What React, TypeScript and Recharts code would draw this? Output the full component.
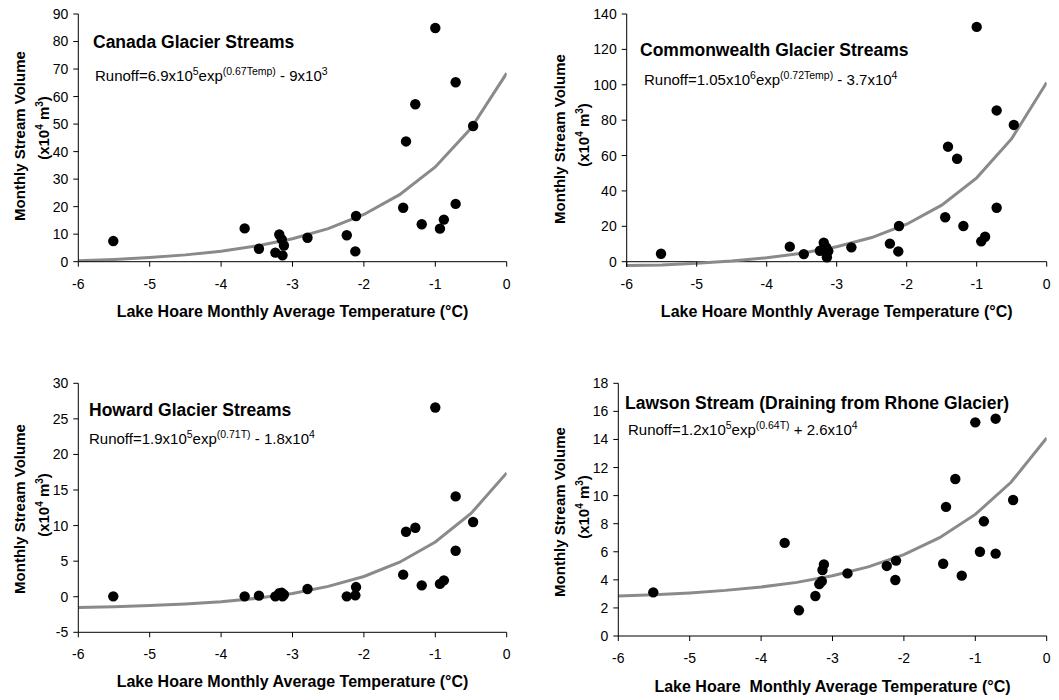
import React from 'react';
import { ComposedChart, Line, Scatter, XAxis, YAxis, ReferenceLine } from 'recharts';

const FONT = "'Liberation Sans', Arial, sans-serif";

// Lake Hoare monthly average temperature (°C), shared by all four panels
const temps = [-5.51, -3.67, -3.47, -3.24, -3.185, -3.15, -3.12, -3.14, -2.79, -2.24, -2.12, -2.11, -1.45, -1.41, -1.28, -1.19, -1.0, -0.935, -0.88, -0.715, -0.715, -0.47];

// Monthly stream volume (x10^4 m^3)
const canadaVolumes = [7.5, 12.1, 4.7, 3.3, 9.9, 8.1, 5.9, 2.3, 8.7, 9.6, 3.75, 16.6, 19.6, 43.7, 57.2, 13.6, 84.9, 12.0, 15.3, 65.2, 21.0, 49.3];
const commonwealthVolumes = [4.5, 8.5, 4.3, 6.2, 10.7, 8.0, 6.0, 2.5, 8.1, 10.2, 5.8, 20.2, 25.1, 65.0, 58.2, 20.2, 132.7, 11.5, 14.1, 85.5, 30.5, 77.3];
const howardVolumes = [0.05, 0.05, 0.15, 0.05, 0.5, 0.55, 0.3, 0.05, 1.08, 0.05, 0.2, 1.36, 3.1, 9.14, 9.7, 1.6, 26.6, 1.8, 2.3, 14.1, 6.47, 10.5];
const lawsonVolumes = [3.11, 6.63, 1.83, 2.85, 3.7, 3.9, 5.1, 4.7, 4.46, 4.99, 3.99, 5.37, 5.15, 9.2, 11.18, 4.3, 15.22, 6.0, 8.17, 15.48, 5.87, 9.69];

// Fitted runoff curves
const fitTemps = [-6, -5.5, -5, -4.5, -4, -3.5, -3, -2.5, -2, -1.5, -1, -0.5, 0];
const canadaFit = [0.34, 0.83, 1.52, 2.48, 3.83, 5.71, 8.35, 12.03, 17.17, 24.36, 34.41, 48.46, 68.5];
const commonwealthFit = [-2.2, -1.9, -0.83, 0.41, 2.19, 4.75, 8.41, 13.66, 21.18, 31.96, 47.41, 69.56, 101.3];
const howardFit = [-1.53, -1.42, -1.25, -1.02, -0.69, -0.22, 0.46, 1.45, 2.85, 4.85, 7.7, 11.7, 17.4];
const lawsonFit = [2.85, 2.94, 3.07, 3.25, 3.49, 3.82, 4.29, 4.92, 5.8, 7.0, 8.66, 10.95, 14.1];

const xTicks = [-6, -5, -4, -3, -2, -1, 0];
const canadaTicks = [0, 10, 20, 30, 40, 50, 60, 70, 80, 90];
const commonwealthTicks = [0, 20, 40, 60, 80, 100, 120, 140];
const howardTicks = [-5, 0, 5, 10, 15, 20, 25, 30];
const lawsonTicks = [0, 2, 4, 6, 8, 10, 12, 14, 16, 18];

const toPoints = (xs: number[], ys: number[]) => xs.map((x, i) => ({ x, y: ys[i] }));

const Dot = (props: any) => {
  const { cx, cy } = props;
  if (cx == null || cy == null) return <g />;
  return <circle cx={cx} cy={cy} r={5.2} fill="#000" />;
};

const TICK_FONT = 14;

type PanelProps = {
  left: number;
  top: number;
  width: number;
  height: number;
  margin: { top: number; right: number; bottom: number; left: number };
  yTicks: number[];
  volumes: number[];
  fit: number[];
  belowZero?: number; // extra room under the x axis so the fit line is not clipped
  pxPerUnit?: number;
};

const Panel = ({ left, top, width, height, margin, yTicks, volumes, fit, belowZero, pxPerUnit }: PanelProps) => {
  const tickStyle = { fontSize: TICK_FONT, fill: '#000', fontFamily: FONT };
  const extra = belowZero && pxPerUnit ? belowZero * pxPerUnit : 0;
  const yMin = belowZero ? yTicks[0] - belowZero : yTicks[0];
  const m = { ...margin, bottom: margin.bottom - extra };
  const customTick = (props: any) => {
    const { x, y, payload } = props;
    const axisY = y - 5 - (12 - extra) - extra;
    return (
      <g>
        <line x1={x} x2={x} y1={axisY} y2={axisY + 5} stroke="#000" />
        <text x={x} y={y} dy="0.71em" textAnchor="middle" fontSize={TICK_FONT} fontFamily={FONT} fill="#000">
          {payload.value}
        </text>
      </g>
    );
  };
  return (
    <div style={{ position: 'absolute', left, top, width, height }}>
      <ComposedChart width={width} height={height} margin={m} style={{ fontFamily: FONT }}>
        <XAxis
          type="number"
          dataKey="x"
          domain={[-6, 0]}
          ticks={xTicks}
          allowDataOverflow
          height={30}
          tickSize={5}
          tickMargin={12 - extra}
          tick={extra ? customTick : tickStyle}
          axisLine={extra ? false : { stroke: '#000' }}
          tickLine={extra ? false : { stroke: '#000' }}
          interval={0}
        />
        <YAxis
          type="number"
          dataKey="y"
          domain={[yMin, yTicks[yTicks.length - 1]]}
          ticks={yTicks}
          allowDataOverflow
          width={40}
          tickSize={5}
          tickMargin={5}
          tick={tickStyle}
          axisLine={{ stroke: '#000' }}
          tickLine={{ stroke: '#000' }}
          interval={0}
        />
        {extra ? <ReferenceLine y={yTicks[0]} stroke="#000" strokeWidth={1} /> : null}
        <Line
          data={toPoints(fitTemps, fit)}
          dataKey="y"
          type="linear"
          stroke="#8a8a8a"
          strokeWidth={3}
          dot={false}
          activeDot={false}
          isAnimationActive={false}
        />
        <Scatter data={toPoints(temps, volumes)} dataKey="y" shape={<Dot />} isAnimationActive={false} />
      </ComposedChart>
    </div>
  );
};

const YTitle = ({ x1, x2, cy1, cy2 }: { x1: number; x2: number; cy1: number; cy2: number }) => (
  <g fontFamily={FONT} fontWeight="bold" fontSize={15} fill="#000">
    <text x={x1} y={cy1} textAnchor="middle" transform={`rotate(-90 ${x1} ${cy1})`}>
      Monthly Stream Volume
    </text>
    <text x={x2} y={cy2} textAnchor="middle" transform={`rotate(-90 ${x2} ${cy2})`}>
      (x10<tspan fontSize={10} dy={-6}>4</tspan>
      <tspan dy={6}> m</tspan>
      <tspan fontSize={10} dy={-6}>3</tspan>
      <tspan dy={6}>)</tspan>
    </text>
  </g>
);

const Equation = ({ x, y, parts }: { x: number; y: number; parts: string[] }) => (
  <text x={x} y={y} fontFamily={FONT} fontSize={15} fill="#000">
    {parts[0]}
    <tspan fontSize={10.5} dy={-6}>{parts[1]}</tspan>
    <tspan dy={6}>{parts[2]}</tspan>
    <tspan fontSize={10.5} dy={-6}>{parts[3]}</tspan>
    <tspan dy={6}>{parts[4]}</tspan>
    <tspan fontSize={10.5} dy={-6}>{parts[5]}</tspan>
  </text>
);

const Title = ({ x, y, text }: { x: number; y: number; text: string }) => (
  <text x={x} y={y} fontFamily={FONT} fontWeight="bold" fontSize={17.5} fill="#000">
    {text}
  </text>
);

const XTitle = ({ cx, y, text }: { cx: number; y: number; text: string }) => (
  <text x={cx} y={y} textAnchor="middle" fontFamily={FONT} fontWeight="bold" fontSize={16} fill="#000" style={{ whiteSpace: 'pre' }}>
    {text}
  </text>
);

export default function App() {
  return (
    <div style={{ position: 'absolute', left: 0, top: 0, width: 1059, height: 700, background: '#fff', overflow: 'hidden' }}>
      <Panel left={0} top={0} width={530} height={340}
        margin={{ top: 14, right: 23.3, bottom: 48.3, left: 38.3 }}
        yTicks={canadaTicks} volumes={canadaVolumes} fit={canadaFit} />
      <Panel left={530} top={0} width={529} height={340}
        margin={{ top: 14, right: 12.3, bottom: 48.3, left: 56.7 }}
        yTicks={commonwealthTicks} volumes={commonwealthVolumes} fit={commonwealthFit}
        belowZero={3} pxPerUnit={247.7 / 140} />
      <Panel left={0} top={340} width={530} height={360}
        margin={{ top: 43.3, right: 23.3, bottom: 37.7, left: 38.3 }}
        yTicks={howardTicks} volumes={howardVolumes} fit={howardFit} />
      <Panel left={530} top={340} width={529} height={360}
        margin={{ top: 43.3, right: 12.3, bottom: 34, left: 48.3 }}
        yTicks={lawsonTicks} volumes={lawsonVolumes} fit={lawsonFit} />

      <svg width={1059} height={700} style={{ position: 'absolute', left: 0, top: 0, pointerEvents: 'none' }}>
        <Title x={93} y={48} text="Canada Glacier Streams" />
        <Equation x={95} y={81} parts={['Runoff=6.9x10', '5', 'exp', '(0.67Temp)', ' - 9x10', '3']} />
        <YTitle x1={25} x2={49} cy1={136} cy2={128} />
        <XTitle cx={292.5} y={317} text="Lake Hoare Monthly Average Temperature (°C)" />

        <Title x={640} y={56} text="Commonwealth Glacier Streams" />
        <Equation x={644} y={85} parts={['Runoff=1.05x10', '6', 'exp', '(0.72Temp)', ' - 3.7x10', '4']} />
        <YTitle x1={565} x2={589} cy1={139} cy2={135} />
        <XTitle cx={836.7} y={317} text="Lake Hoare Monthly Average Temperature (°C)" />

        <Title x={89} y={416} text="Howard Glacier Streams" />
        <Equation x={89} y={444} parts={['Runoff=1.9x10', '5', 'exp', '(0.71T)', ' - 1.8x10', '4']} />
        <YTitle x1={25} x2={49} cy1={509} cy2={505} />
        <XTitle cx={292.5} y={687} text="Lake Hoare Monthly Average Temperature (°C)" />

        <Title x={625} y={409} text="Lawson Stream (Draining from Rhone Glacier)" />
        <Equation x={628} y={435} parts={['Runoff=1.2x10', '5', 'exp', '(0.64T)', ' + 2.6x10', '4']} />
        <YTitle x1={565} x2={589} cy1={512} cy2={507} />
        <XTitle cx={832.5} y={692} text="Lake Hoare  Monthly Average Temperature (°C)" />
      </svg>
    </div>
  );
}
